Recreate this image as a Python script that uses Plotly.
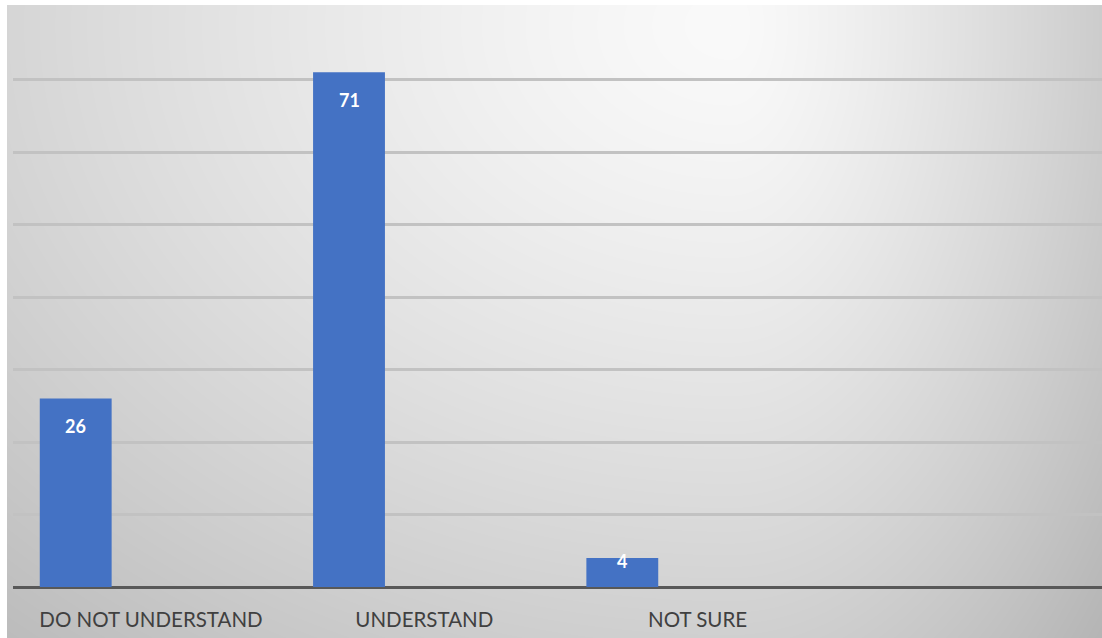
import base64
import struct
import zlib

import numpy as np
import plotly.graph_objects as go

# ---- data -------------------------------------------------------------
categories = ["DO NOT UNDERSTAND", "UNDERSTAND", "NOT SURE"]
responses = [26, 71, 4]
y_grid_values = [0, 10, 20, 30, 40, 50, 60, 70]

# ---- layout constants -------------------------------------------------
W, H = 1102, 638
M_L, M_R, M_T, M_B = 13, 0, 5, 51
PLOT_W = W - M_L - M_R
PLOT_H = H - M_T - M_B
CAT_PX = 273.3            # pixel width of one category slot
FIRST_CENTER_PX = 151     # pixel x of first category centre
X_MIN = -(FIRST_CENTER_PX - M_L) / CAT_PX
X_MAX = X_MIN + PLOT_W / CAT_PX
BAR_OFFSET = -0.407       # bar left edge relative to category centre
BAR_WIDTH = 0.263
Y_MAX = 80.28
BAR_BLUE = "#4472C4"
label_drop_px = [27.5, 28, 3]   # distance of value label centre below bar top


# ---- soft radial grey background, rendered as an inline PNG ----------
def gray_png(arr):
    h, w = arr.shape
    raw = b"".join(b"\x00" + arr[r].tobytes() for r in range(h))

    def chunk(tag, data):
        c = struct.pack(">I", len(data)) + tag + data
        return c + struct.pack(">I", zlib.crc32(tag + data) & 0xFFFFFFFF)

    ihdr = struct.pack(">IIBBBBB", w, h, 8, 0, 0, 0, 0)
    png = b"\x89PNG\r\n\x1a\n" + chunk(b"IHDR", ihdr) + \
        chunk(b"IDAT", zlib.compress(raw, 9)) + chunk(b"IEND", b"")
    return "data:image/png;base64," + base64.b64encode(png).decode()


BG_X0, BG_Y0 = 7, 5
bw, bh = W - BG_X0, H - BG_Y0
xs = np.arange(bw) + BG_X0
ys = np.arange(bh) + BG_Y0
X, Y = np.meshgrid(xs, ys)
cx, cy = 730.0, 25.0
sx = np.where(X < cx, 1000.0, 430.0)
d = np.sqrt(((X - cx) / sx) ** 2 + ((Y - cy) / 750.0) ** 2)
g = 250.0 - 55.0 * d ** 1.3
bg = np.clip(g, 0, 255).astype(np.uint8)
bg_uri = gray_png(bg)

# ---- figure -----------------------------------------------------------
x_idx = list(range(len(categories)))

fig = go.Figure()
fig.add_trace(go.Bar(
    x=x_idx,
    y=responses,
    offset=BAR_OFFSET,
    width=BAR_WIDTH,
    marker=dict(color=BAR_BLUE, line=dict(width=0)),
    hoverinfo="skip",
    showlegend=False,
))

for i, v in enumerate(responses):
    fig.add_annotation(
        x=i + BAR_OFFSET + BAR_WIDTH / 2, y=v, xref="x", yref="y",
        text=f"<b>{v}</b>", showarrow=False,
        yanchor="middle", yshift=-label_drop_px[i],
        font=dict(family="Lato, Open Sans, sans-serif", size=18, color="white"),
    )

fig.add_layout_image(dict(
    source=bg_uri, xref="paper", yref="paper",
    x=(BG_X0 - M_L) / PLOT_W, y=1 + (M_T - BG_Y0) / PLOT_H,
    sizex=bw / PLOT_W, sizey=bh / PLOT_H,
    xanchor="left", yanchor="top", sizing="stretch", layer="below",
))

fig.update_layout(
    width=W, height=H,
    margin=dict(l=M_L, r=M_R, t=M_T, b=M_B, pad=0),
    paper_bgcolor="white",
    plot_bgcolor="rgba(0,0,0,0)",
    showlegend=False,
    xaxis=dict(
        range=[X_MIN, X_MAX],
        tickmode="array", tickvals=x_idx, ticktext=categories,
        showgrid=False, zeroline=False,
        showline=False, ticks="",
        tickfont=dict(family="Lato, Open Sans, sans-serif", size=20.5, color="#404040"),
        ticklabelstandoff=18,
    ),
    yaxis=dict(
        range=[0, Y_MAX],
        tickmode="array", tickvals=y_grid_values,
        showgrid=True, gridcolor="#c2c2c2", gridwidth=3,
        zeroline=True, zerolinecolor="#585858", zerolinewidth=3,
        showticklabels=False, ticks="", showline=False,
    ),
)

fig.write_html("out.html")
